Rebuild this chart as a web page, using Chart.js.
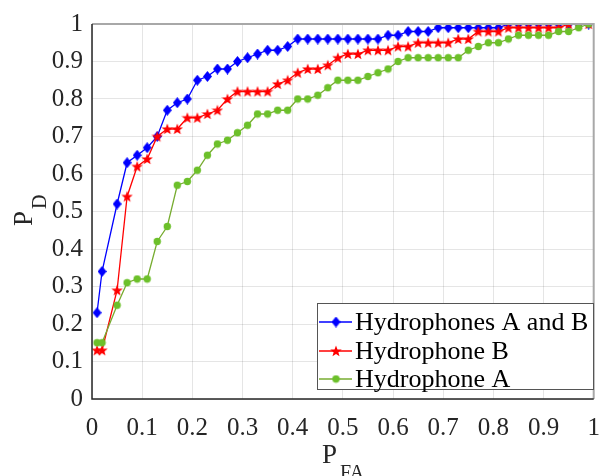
<!DOCTYPE html>
<html>
<head>
<meta charset="utf-8">
<title>ROC - hydrophones</title>
<script src="https://cdn.jsdelivr.net/npm/chart.js@4.4.1/dist/chart.umd.min.js"></script>
<style>
  html,body{margin:0;padding:0;background:#fff}
  #roc{display:block}
</style>
</head>
<body>
<canvas id="roc" width="600" height="476"></canvas>
<script>
// ===================== DATOS =====================
const pfa=[0.01,0.02,0.05,0.07,0.09,0.11,0.13,0.15,0.17,0.19,0.21,0.23,0.25,0.27,0.29,0.31,0.33,0.35,0.37,0.39,
  0.41,0.43,0.45,0.47,0.49,0.51,0.53,0.55,0.57,0.59,0.61,0.63,0.65,0.67,0.69,0.71,0.73,0.75,0.77,0.79,
  0.81,0.83,0.85,0.87,0.89,0.91,0.93,0.95,0.97,0.99];
const pdAB=[0.23,0.34,0.52,0.63,0.65,0.67,0.70,0.77,0.79,0.80,0.85,0.86,0.88,0.88,0.90,0.91,0.92,0.93,0.93,0.94,
  0.96,0.96,0.96,0.96,0.96,0.96,0.96,0.96,0.96,0.97,0.97,0.98,0.98,0.98,0.99,0.99,0.99,0.99,0.99,0.99,
  0.99,1,1,1,1,1,1,1,1,1];
const pdB=[0.13,0.13,0.29,0.54,0.62,0.64,0.70,0.72,0.72,0.75,0.75,0.76,0.77,0.80,0.82,0.82,0.82,0.82,0.84,0.85,
  0.87,0.88,0.88,0.89,0.91,0.92,0.92,0.93,0.93,0.93,0.94,0.94,0.95,0.95,0.95,0.95,0.96,0.96,0.98,0.98,
  0.98,0.99,0.99,0.99,0.99,0.99,0.99,1,1,1];
const pdA=[0.15,0.15,0.25,0.31,0.32,0.32,0.42,0.46,0.57,0.58,0.61,0.65,0.68,0.69,0.71,0.73,0.76,0.76,0.77,0.77,
  0.80,0.80,0.81,0.83,0.85,0.85,0.85,0.86,0.87,0.88,0.90,0.91,0.91,0.91,0.91,0.91,0.91,0.93,0.94,0.95,
  0.95,0.96,0.97,0.97,0.97,0.97,0.98,0.98,0.99,1];
const seriesLabels=['Hydrophones A and B','Hydrophone B','Hydrophone A'];
const tickVals=[0,0.1,0.2,0.3,0.4,0.5,0.6,0.7,0.8,0.9,1];

const FONT='"Liberation Serif","Times New Roman",serif';
const TXT='#262626';

// ── marcadores estilo MATLAB ──
function mkDiamond(col){
  const c=document.createElement('canvas');c.width=9;c.height=11;
  const g=c.getContext('2d');g.fillStyle=col;
  g.beginPath();g.moveTo(4.5,0);g.lineTo(9,5.5);g.lineTo(4.5,11);g.lineTo(0,5.5);g.closePath();g.fill();
  return c;
}
function mkStar(col){
  const c=document.createElement('canvas');c.width=12;c.height=12;
  const g=c.getContext('2d');g.fillStyle=col;g.beginPath();
  for(let i=0;i<10;i++){
    const r=i%2?2.5:6,a=-Math.PI/2+i*Math.PI/5;
    const px=6+r*Math.cos(a),py=6.4+r*Math.sin(a);
    i?g.lineTo(px,py):g.moveTo(px,py);
  }
  g.closePath();g.fill();
  return c;
}
function mkDot(col){
  const c=document.createElement('canvas');c.width=9;c.height=9;
  const g=c.getContext('2d');g.fillStyle=col;
  g.beginPath();g.arc(4.5,4.5,3.7,0,Math.PI*2);g.fill();
  return c;
}
const mkAB=mkDiamond('#0000ff'),mkB=mkStar('#ff0000'),mkA=mkDot('#6cc02a');

const pts=arr=>arr.map((v,i)=>({x:pfa[i],y:v}));

// ── leyenda + títulos de ejes ──
const decor={
  id:'decor',
  afterDraw(ch){
    const ctx=ch.ctx,a=ch.chartArea;
    ctx.save();
    // marco superior/derecho
    ctx.strokeStyle='#a8a8a8';ctx.lineWidth=2;
    ctx.beginPath();ctx.moveTo(a.left,a.top);ctx.lineTo(a.right,a.top);ctx.lineTo(a.right,a.bottom);ctx.stroke();
    ctx.strokeStyle=TXT;ctx.lineWidth=1.5;
    ctx.beginPath();ctx.moveTo(a.left,a.top);ctx.lineTo(a.left,a.bottom);ctx.lineTo(a.right,a.bottom);ctx.stroke();

    // leyenda
    const bx=317,by=303,bw=276,bh=86;
    ctx.fillStyle='#fff';ctx.fillRect(bx,by,bw,bh);
    ctx.strokeStyle='#555';ctx.lineWidth=1;ctx.strokeRect(bx+0.5,by+0.5,bw,bh);
    const rows=[322,351,379];
    ch.data.datasets.forEach((ds,i)=>{
      const y=rows[i];
      ctx.strokeStyle=ds.borderColor;ctx.lineWidth=1.3;
      ctx.beginPath();ctx.moveTo(319,y);ctx.lineTo(352,y);ctx.stroke();
      const m=ds.pointStyle;
      ctx.drawImage(m,336-m.width/2,y-m.height/2);
      ctx.fillStyle='#000';ctx.font='26px '+FONT;ctx.textBaseline='middle';ctx.textAlign='left';
      ctx.fillText(ds.label,355,y+1);
    });

    // título eje x: P_FA
    ctx.fillStyle=TXT;ctx.textBaseline='alphabetic';ctx.textAlign='left';
    ctx.font='27px '+FONT;ctx.fillText('P',322,463);
    ctx.font='20px '+FONT;ctx.fillText('FA',340,479);
    // título eje y: P_D
    ctx.translate(32,226);ctx.rotate(-Math.PI/2);
    ctx.font='27px '+FONT;ctx.fillText('P',0,0);
    ctx.font='20px '+FONT;ctx.fillText('D',17,14);
    ctx.restore();
  }
};

const fmt=v=>String(+(+v).toFixed(1));

new Chart(document.getElementById('roc'),{
  type:'line',
  data:{datasets:[
    {label:seriesLabels[0],data:pts(pdAB),borderColor:'#0000ff',borderWidth:1.3,pointStyle:mkAB,pointRadius:5,order:3},
    {label:seriesLabels[1],data:pts(pdB),borderColor:'#ff0000',borderWidth:1.3,pointStyle:mkB,pointRadius:5,order:2},
    {label:seriesLabels[2],data:pts(pdA),borderColor:'#77ac30',borderWidth:1.3,pointStyle:mkA,pointRadius:4,order:1}
  ]},
  options:{
    responsive:false,animation:false,devicePixelRatio:1,
    layout:{padding:{top:17,right:5,left:0,bottom:0}},
    plugins:{legend:{display:false},tooltip:{enabled:false}},
    elements:{line:{tension:0}},
    scales:{
      x:{type:'linear',min:0,max:1,
        afterBuildTicks:s=>{s.ticks=tickVals.map(v=>({value:v}));},
        afterFit:s=>{s.height=77;s.paddingLeft=0;s.paddingRight=0;},
        grid:{color:'rgba(0,0,0,0.1)',drawTicks:false},border:{display:false},
        ticks:{padding:14,color:TXT,font:{family:FONT,size:25},callback:fmt,maxRotation:0}},
      y:{type:'linear',min:0,max:1,
        afterBuildTicks:s=>{s.ticks=tickVals.map(v=>({value:v}));},
        afterFit:s=>{s.width=92;},
        grid:{color:'rgba(0,0,0,0.1)',drawTicks:false},border:{display:false},
        ticks:{padding:9,color:TXT,font:{family:FONT,size:25},callback:fmt}}
    }
  },
  plugins:[decor]
});
</script>
</body>
</html>
